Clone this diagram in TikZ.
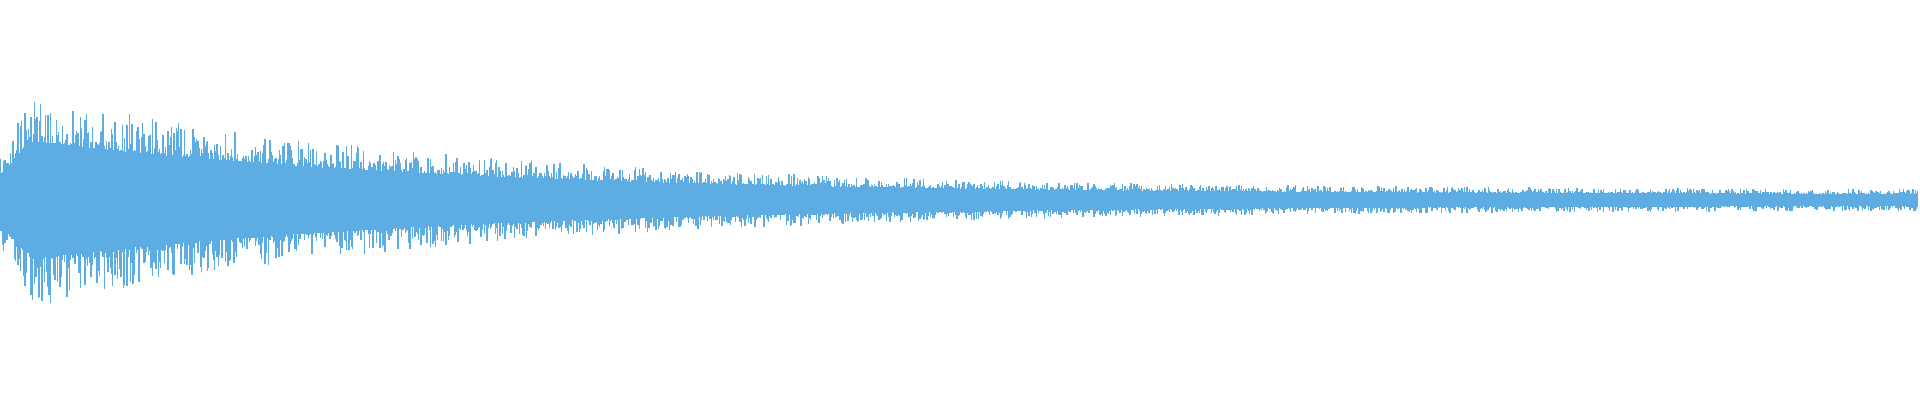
\documentclass[tikz,border=0pt]{standalone}
\definecolor{wave}{RGB}{93,172,226}
\begin{document}
\begin{tikzpicture}[x=1cm,y=1cm]
\useasboundingbox (0,0) rectangle (19.2,4);
\pgfmathsetseed{7}
\foreach \i in {0,...,1599}{
  \pgfmathsetmacro{\x}{\i*0.012}
  \pgfmathsetmacro{\att}{min(1,0.4+0.6*\x/0.35)}
  \pgfmathsetmacro{\env}{\att*(0.1+1.05*exp(-\x/4.2))}
  \pgfmathsetmacro{\ra}{rnd}
  \pgfmathsetmacro{\rb}{rnd}
  \pgfmathsetmacro{\up}{\env*(0.55+0.45*\ra*\ra)}
  \pgfmathsetmacro{\dn}{\env*(0.55+0.45*\rb*\rb)}
  \draw[wave,line width=0.4pt] (\x,2.0+\up) -- (\x,2.0-\dn);
}
\end{tikzpicture}
\end{document}
